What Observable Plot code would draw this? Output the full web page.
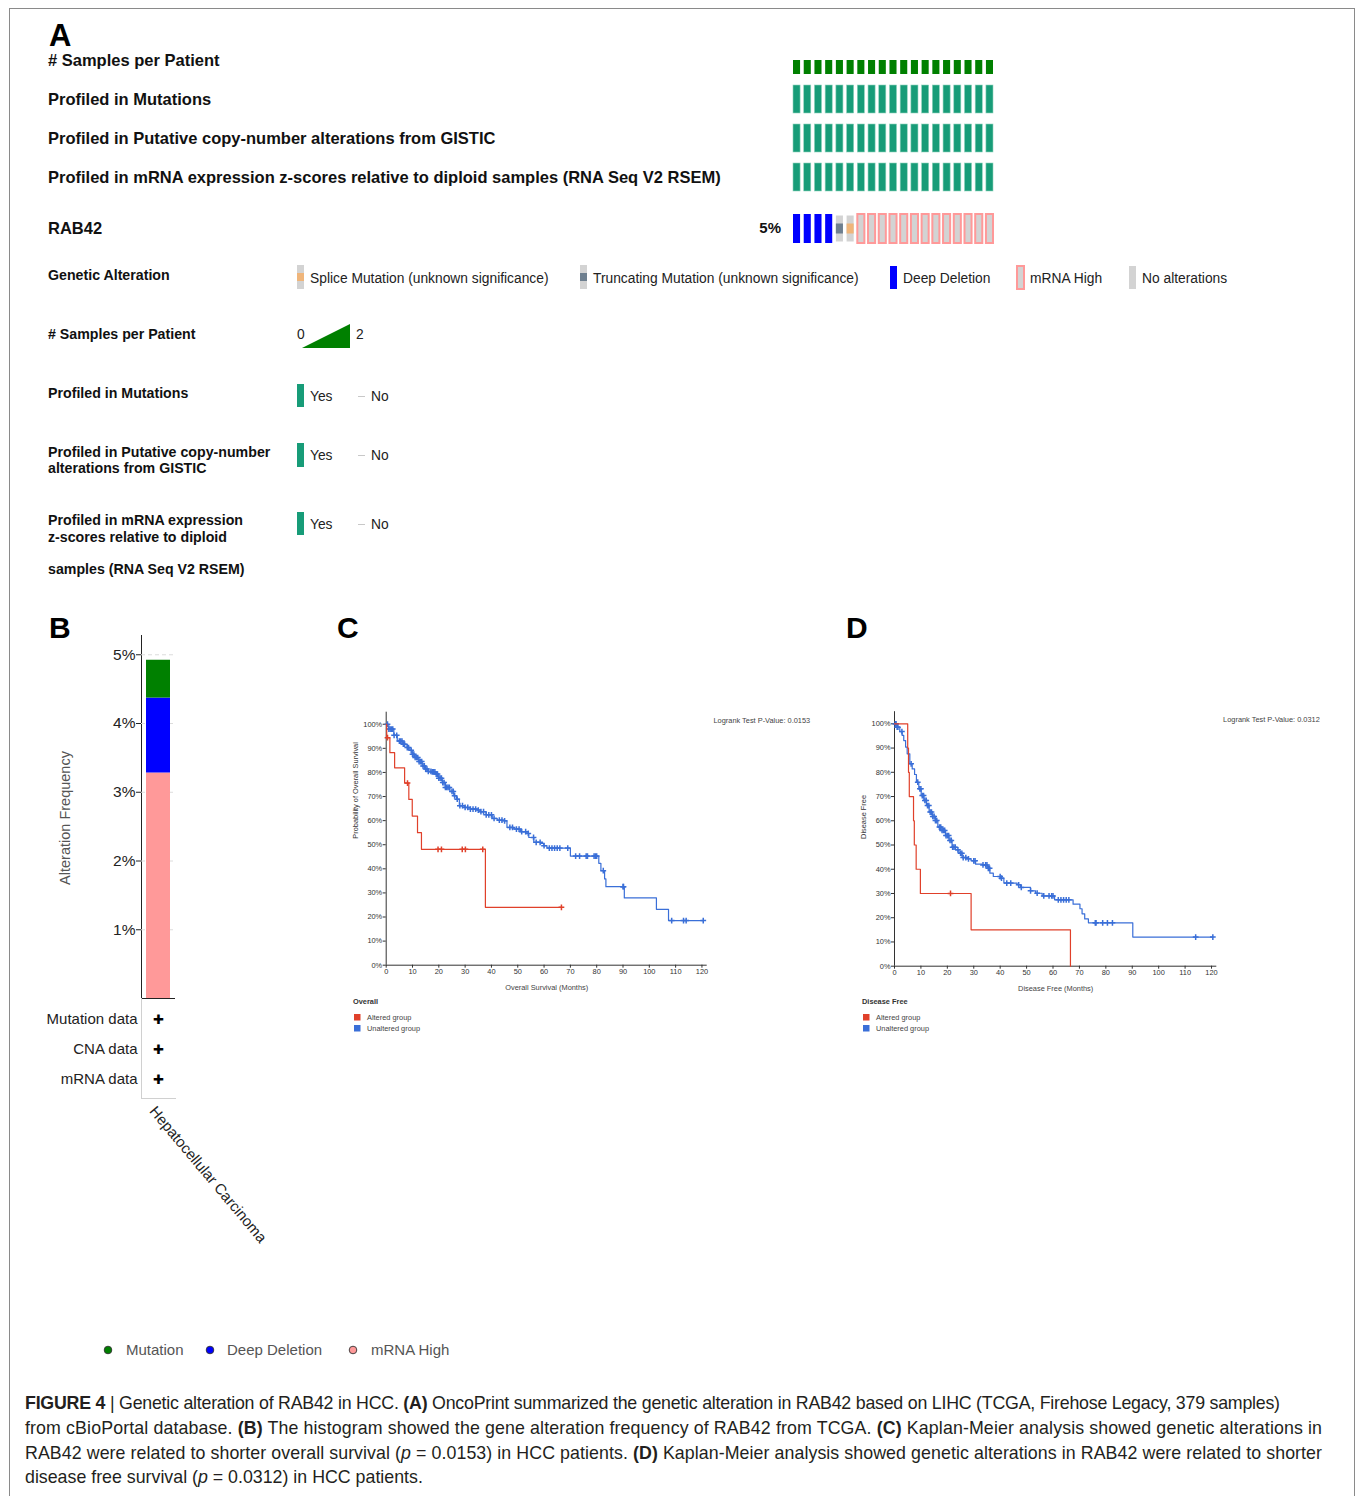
<!DOCTYPE html>
<html>
<head>
<meta charset="utf-8">
<script src="https://cdn.jsdelivr.net/npm/d3@7"></script>
<script src="https://cdn.jsdelivr.net/npm/@observablehq/plot@0.6"></script>
<style>
  body { margin: 0; background: #fff; }
  #fig { position: relative; width: 1357px; height: 1496px; overflow: hidden; background: #fff;
         font-family: 'Liberation Sans', Arial, Helvetica, sans-serif; color: #111; }
  .lab { position: absolute; white-space: nowrap; transform: translateY(-50%); line-height: 1.15; }
</style>
</head>
<body>
<div id="fig"></div>
<script>
// ---------- Panel A: OncoPrint tracks (one entry per altered sample) ----------
const totalSamples = 379;
const rab42Alteration = [
  "Deep Deletion", "Deep Deletion", "Deep Deletion", "Deep Deletion",
  "Truncating Mutation", "Splice Mutation",
  "mRNA High", "mRNA High", "mRNA High", "mRNA High", "mRNA High", "mRNA High", "mRNA High",
  "mRNA High", "mRNA High", "mRNA High", "mRNA High", "mRNA High", "mRNA High"
];
const samplesPerPatient = [1, 1, 1, 1, 1, 1, 1, 1, 1, 1, 1, 1, 1, 1, 1, 1, 1, 1, 1];
const profiledMutations = ["Yes", "Yes", "Yes", "Yes", "Yes", "Yes", "Yes", "Yes", "Yes", "Yes", "Yes", "Yes", "Yes", "Yes", "Yes", "Yes", "Yes", "Yes", "Yes"];
const profiledCNA = ["Yes", "Yes", "Yes", "Yes", "Yes", "Yes", "Yes", "Yes", "Yes", "Yes", "Yes", "Yes", "Yes", "Yes", "Yes", "Yes", "Yes", "Yes", "Yes"];
const profiledMRNA = ["Yes", "Yes", "Yes", "Yes", "Yes", "Yes", "Yes", "Yes", "Yes", "Yes", "Yes", "Yes", "Yes", "Yes", "Yes", "Yes", "Yes", "Yes", "Yes"];

// ---------- Panel B: alteration frequency ----------
const cancerStudies = ["Hepatocellular Carcinoma"];
const freqTypes = ["mRNA High", "Deep Deletion", "Mutation"];
const freqValues = [3.28, 1.09, 0.55];
const profileRows = ["Mutation data", "CNA data", "mRNA data"];
const profileFlags = ["✚", "✚", "✚"];

// ---------- Panel C: overall survival ----------
const osAlteredTime = [0, 0.2, 1.4, 3.2, 7.0, 8.6, 9.9, 11.9, 13.4, 37.7, 66.6];
const osAlteredSurv = [100, 94.4, 88.2, 81.9, 75.6, 68.8, 61.9, 55.0, 48.1, 24.0, 24.0];
const osAlteredCensor = [0.5, 8.1, 19.7, 21.0, 28.9, 30.1, 36.7, 66.6];
const osUnalteredTime = [0, 1, 2.9, 4.2, 6.1, 8, 9, 9.9, 10.8, 12.4, 13.7, 14.9, 15.8, 17.5, 18.7, 20, 21.3, 22.5, 24.2, 25.7, 26.7, 27.8, 29.7, 32, 34.6, 35.8, 38, 40.3, 42.2, 44.7, 45.9, 48.5, 51, 53.5, 54.2, 56.1, 58.6, 59.9, 61.1, 70, 80.8, 81.6, 83, 83.5, 90.5, 102.7, 107.3, 120.6];
const osUnalteredSurv = [100, 98, 95.4, 93, 91.7, 90.3, 89.2, 87.6, 86.2, 84.5, 82.7, 81.4, 80.4, 80.2, 79.3, 77.6, 75.8, 73.8, 72.1, 70.3, 68.9, 66.2, 65.5, 64.8, 64.4, 63.7, 62.4, 60.9, 60.2, 59.9, 57.2, 56.5, 55.4, 54.7, 53, 51, 50.6, 49.6, 48.6, 45.3, 42.3, 39.2, 35.8, 32.6, 27.9, 23.2, 18.5, 18.5];
const osUnalteredCensor = [0.5, 1, 1.5, 2, 2.5, 3, 4, 5, 5.5, 6, 6.5, 7, 8, 8.5, 9.5, 10, 10.5, 11, 11.5, 12, 12.5, 13, 13.5, 14, 14.5, 15, 15.5, 16, 17, 17.5, 18, 18.5, 19, 19.5, 20, 20.5, 21, 21.5, 22, 22.5, 23, 23.5, 24, 25, 25.5, 26, 27, 28, 29, 30, 31, 32, 33, 34, 35, 36, 37, 38, 39, 40, 41, 43, 44, 45, 47, 48, 49.5, 50.5, 51.5, 53, 54, 56, 57, 58.5, 60, 62, 63, 64, 65, 66, 69, 72, 73.5, 76, 76.5, 79, 79.5, 80, 82.5, 90, 90.2, 108.5, 113, 114, 120.5];

// ---------- Panel D: disease free survival ----------
const dfsAlteredTime = [0, 5.0, 5.3, 5.6, 7.2, 7.5, 8.2, 9.8, 29.0, 66.6];
const dfsAlteredSurv = [100, 90, 80, 70, 60, 50, 40, 30, 15, 0];
const dfsAlteredCensor = [21.2];
const dfsUnalteredTime = [0, 1, 2, 2.9, 3.5, 4.2, 4.8, 5.8, 6.7, 7.6, 8.3, 9.2, 10.1, 11.1, 12.1, 13.1, 14.3, 15.5, 16.4, 18, 19.3, 20.6, 21.8, 23.1, 24.4, 25.6, 27.5, 29, 30.7, 33.2, 35.1, 36.1, 37.4, 40.1, 41.4, 46.4, 47.7, 51.5, 53.4, 55.9, 60.6, 67.6, 70.2, 71, 72, 73.4, 90.2, 120.5];
const dfsUnalteredSurv = [100, 98.6, 96.8, 95.2, 93.1, 90.4, 87.6, 83.5, 81.4, 79.1, 75.9, 73.2, 70.4, 68.4, 66.3, 63.6, 61.8, 60.1, 57.4, 56, 53.9, 51.9, 49.1, 48, 46.6, 44.8, 44.3, 43.5, 42.1, 41.8, 40.4, 38.4, 37, 36.3, 34.3, 33.6, 32.5, 31.1, 30.1, 29, 27.4, 25.6, 23.7, 21.6, 19.5, 17.9, 12, 12];
const dfsUnalteredCensor = [0.3, 0.6, 1, 1.3, 2.8, 6.3, 8.8, 9.6, 10, 10.5, 11, 11.5, 12, 12.5, 13, 13.5, 14, 14.5, 15, 15.5, 16, 17, 17.5, 18, 18.5, 19, 19.5, 20, 20.5, 21, 21.5, 22, 22.5, 23, 24, 25, 25.5, 26, 27, 28, 30, 30.5, 33.5, 34.5, 35, 35.5, 36, 40, 40.5, 42.5, 44, 47, 48, 51.5, 54, 56.5, 58.5, 59.5, 60, 62, 63, 64, 65, 66, 76, 76.3, 78.8, 80.6, 82.5, 114, 120.5];

// ---------- styling ----------
const FONT = "'Liberation Sans', Arial, Helvetica, sans-serif";
const TEAL = "#179c78", DARKGREEN = "#008000", BLUE = "#0000ff", PINK = "#ff9999",
      GRAY = "#d3d3d3", SLATE = "#6e7f8f", ORANGE = "#efb57a";
const KM_RED = "#e0402a", KM_BLUE = "#3a6fd8";

const fig = document.getElementById("fig");

function place(node, left, top) {
  node.style.position = "absolute";
  node.style.left = left + "px";
  node.style.top = top + "px";
  fig.appendChild(node);
  return node;
}
function label(html, x, cy, css = {}) {
  const d = document.createElement("div");
  d.className = "lab";
  d.innerHTML = html;
  d.style.left = x + "px";
  d.style.top = cy + "px";
  Object.assign(d.style, css);
  fig.appendChild(d);
  return d;
}
function svgBox(left, top, w, h, inner) {
  const d = document.createElement("div");
  d.style.cssText = `position:absolute;left:${left}px;top:${top}px;width:${w}px;height:${h}px`;
  d.innerHTML = `<svg width="${w}" height="${h}" style="display:block;overflow:visible">${inner}</svg>`;
  fig.appendChild(d);
  return d;
}

// outer frame
const frame = document.createElement("div");
frame.style.cssText = "position:absolute;left:9px;top:8px;width:1344px;height:1600px;border:1px solid #8a8a8a;";
fig.appendChild(frame);

// ---------- Panel A ----------
label("A", 49, 36, {fontSize: "31px", fontWeight: "bold", color: "#000"});
const trackFont = {fontSize: "16.5px", fontWeight: "bold", color: "#111"};
label("# Samples per Patient", 48, 60, trackFont);
label("Profiled in Mutations", 48, 99, trackFont);
label("Profiled in Putative copy-number alterations from GISTIC", 48, 138, trackFont);
label("Profiled in mRNA expression z-scores relative to diploid samples (RNA Seq V2 RSEM)", 48, 177, trackFont);
label("RAB42", 48, 228, trackFont);

const columns = rab42Alteration.map((_, i) => i);
const colScale = {type: "band", domain: columns, paddingInner: 0.34, paddingOuter: 0, round: false, axis: null};
function track(top, height, y, marks) {
  const p = Plot.plot({
    width: 230, height, marginLeft: 13, marginRight: 17, marginTop: 0, marginBottom: 0,
    x: colScale, y: {...y, axis: null}, marks,
    style: {background: "transparent", overflow: "visible"}
  });
  place(p, 780, top);
}
track(46, 28, {domain: [0, 2]}, [
  Plot.barY(samplesPerPatient, {x: (d, i) => i, y: d => d, fill: DARKGREEN})
]);
[[85, profiledMutations], [124, profiledCNA], [163, profiledMRNA]].forEach(([top, arr]) => {
  track(top, 28, {domain: [0, 1]}, [
    Plot.barY(arr, {x: (d, i) => i, y: d => d === "Yes" ? 1 : 0, fill: TEAL, stroke: "#8fd3bd", strokeWidth: 0.6})
  ]);
});
const rab42 = rab42Alteration.map((alt, i) => ({i, alt, gene: "RAB42"}));
const isMut = d => d.alt.endsWith("Mutation");
track(214, 29, {type: "band", domain: ["RAB42"], padding: 0, round: false}, [
  Plot.cell(rab42.filter(d => d.alt === "Deep Deletion"), {x: "i", y: "gene", fill: BLUE}),
  Plot.cell(rab42.filter(isMut), {x: "i", y: "gene", fill: GRAY, insetTop: 1.5, insetBottom: 1.5}),
  Plot.cell(rab42.filter(d => d.alt === "mRNA High"), {x: "i", y: "gene", fill: GRAY, stroke: PINK, strokeWidth: 2}),
  Plot.cell(rab42.filter(d => d.alt === "Truncating Mutation"), {x: "i", y: "gene", fill: SLATE, insetTop: 9.5, insetBottom: 9.5}),
  Plot.cell(rab42.filter(d => d.alt === "Splice Mutation"), {x: "i", y: "gene", fill: ORANGE, insetTop: 9.5, insetBottom: 9.5})
]);
label(Math.round(rab42Alteration.length / totalSamples * 100) + "%", 781, 228,
  {fontSize: "15px", fontWeight: "bold", transform: "translate(-100%,-50%)"});

// legends of panel A
const legHead = {fontSize: "14.2px", fontWeight: "bold", color: "#111"};
const legText = {fontSize: "13.8px", color: "#222"};
label("Genetic Alteration", 48, 275, legHead);
svgBox(297, 265, 8, 24, `<rect width="7" height="24" fill="${GRAY}"/><rect y="8" width="7" height="8" fill="${ORANGE}"/>`);
label("Splice Mutation (unknown significance)", 310, 279, legText);
svgBox(580, 265, 8, 24, `<rect width="7" height="24" fill="${GRAY}"/><rect y="8" width="7" height="8" fill="${SLATE}"/>`);
label("Truncating Mutation (unknown significance)", 593, 279, legText);
svgBox(890, 266, 8, 23, `<rect width="7" height="23" fill="${BLUE}"/>`);
label("Deep Deletion", 903, 279, legText);
svgBox(1017, 266, 9, 23, `<rect x="0" y="0" width="7" height="23" fill="${GRAY}" stroke="${PINK}" stroke-width="2"/>`);
label("mRNA High", 1030, 279, legText);
svgBox(1129, 266, 8, 23, `<rect width="7" height="23" fill="${GRAY}"/>`);
label("No alterations", 1142, 279, legText);

label("# Samples per Patient", 48, 334, legHead);
label("0", 297, 335, legText);
svgBox(302, 324, 50, 25, `<polygon points="0,24 48,24 48,0" fill="${DARKGREEN}"/>`);
label("2", 356, 335, legText);

function yesNo(cy, top, h) {
  svgBox(297, top, 8, h, `<rect width="7" height="${h}" fill="${TEAL}"/>`);
  label("Yes", 310, cy, legText);
  svgBox(358, cy - 1, 8, 2, `<rect width="7" height="1" fill="#c8c8c8"/>`);
  label("No", 371, cy, legText);
}
label("Profiled in Mutations", 48, 393, legHead);
yesNo(397, 384, 23);
label("Profiled in Putative copy-number", 48, 452, legHead);
label("alterations from GISTIC", 48, 468, legHead);
yesNo(456, 443, 24);
label("Profiled in mRNA expression", 48, 520, legHead);
label("z-scores relative to diploid", 48, 537, legHead);
label("samples (RNA Seq V2 RSEM)", 48, 569, legHead);
yesNo(525, 512, 23);

// ---------- Panel B ----------
const letter = {fontSize: "30px", fontWeight: "bold", color: "#000"};
label("B", 49, 628, letter);
label("C", 337, 628, letter);
label("D", 846, 628, letter);

const freqData = freqTypes.map((t, i) => ({study: cancerStudies[0], type: t, freq: freqValues[i]}));
const bPlot = Plot.plot({
  width: 150, height: 370, marginLeft: 101, marginRight: 15, marginTop: 5, marginBottom: 2,
  style: {fontFamily: FONT, fontSize: "15.5px", color: "#222", background: "transparent", overflow: "visible"},
  x: {type: "band", domain: cancerStudies, padding: 0.17, axis: null},
  y: {domain: [0, 5.28], ticks: [1, 2, 3, 4, 5], tickFormat: d => d + "%", tickSize: 5, tickPadding: 1, label: null, line: true},
  color: {domain: ["Mutation", "Deep Deletion", "mRNA High"], range: [DARKGREEN, BLUE, PINK]},
  marks: [
    Plot.gridY([1, 2, 3, 4, 5], {stroke: "#dcdcdc", strokeOpacity: 1, strokeDasharray: "4,3"}),
    Plot.barY(freqData, {x: "study", y: "freq", fill: "type"}),
    Plot.ruleY([0], {stroke: "#222"})
  ]
});
place(bPlot, 40, 630);
label("Alteration Frequency", 65, 818, {fontSize: "14.5px", color: "#555", transform: "translate(-50%,-50%) rotate(-90deg)"});

const tableBox = document.createElement("div");
tableBox.style.cssText = "position:absolute;left:141px;top:998px;width:34px;height:100px;border-left:1px solid #d0d0d0;border-bottom:1px solid #d0d0d0;";
fig.appendChild(tableBox);

const tPlot = Plot.plot({
  width: 150, height: 246, marginLeft: 101, marginRight: 15, marginTop: 6, marginBottom: 150,
  style: {fontFamily: FONT, fontSize: "15px", color: "#222", background: "transparent", overflow: "visible"},
  x: {type: "band", domain: cancerStudies, padding: 0.17},
  y: {type: "band", domain: profileRows, padding: 0},
  marks: [
    Plot.axisY({tickSize: 0, tickPadding: 4, label: null}),
    Plot.axisX({tickSize: 0, tickRotate: 50, tickPadding: 6, dx: -6, dy: 8, label: null}),
    Plot.text(profileRows, {x: () => cancerStudies[0], y: d => d, text: (d, i) => profileFlags[i], fontSize: 13, fill: "#000"})
  ]
});
place(tPlot, 40, 998);

// legend of panel B
const bLeg = {fontSize: "15px", color: "#555"};
[[108, DARKGREEN, "Mutation", 126], [210, BLUE, "Deep Deletion", 227], [353, PINK, "mRNA High", 371]].forEach(([cx, c, t, tx]) => {
  svgBox(cx - 5, 1345, 10, 10, `<circle cx="5" cy="5" r="3.8" fill="${c}" stroke="#333" stroke-width="0.9"/>`);
  label(t, tx, 1350, bLeg);
});

// ---------- Panels C and D: Kaplan-Meier curves ----------
function kmSeries(times, surv) { return times.map((t, i) => ({t, s: surv[i]})); }
function censorPoints(cTimes, times, surv) {
  return cTimes.map(t => ({t, s: surv[Math.max(0, d3.bisectRight(times, t) - 1)]}));
}
function kmPlot(o) {
  return Plot.plot({
    width: 480, height: 300, marginLeft: o.ml, marginRight: o.mr, marginTop: o.mt, marginBottom: o.mb,
    style: {fontFamily: FONT, fontSize: "7.4px", color: "#333", background: "transparent", overflow: "visible"},
    x: {domain: [0, 122], ticks: d3.range(0, 121, 10), tickSize: 3, tickPadding: 1, label: null},
    y: {domain: [0, 105], ticks: d3.range(0, 101, 10), tickFormat: d => d + "%", tickSize: 3, tickPadding: 1, label: null},
    marks: [
      Plot.ruleX([0], {stroke: "#333"}),
      Plot.ruleY([0], {stroke: "#333"}),
      Plot.line(kmSeries(o.uT, o.uS), {x: "t", y: "s", curve: "step-after", stroke: KM_BLUE, strokeWidth: 1.2}),
      Plot.dot(censorPoints(o.uC, o.uT, o.uS), {x: "t", y: "s", symbol: "plus", r: 2, stroke: KM_BLUE, strokeWidth: 1.5}),
      Plot.line(kmSeries(o.aT, o.aS), {x: "t", y: "s", curve: "step-after", stroke: KM_RED, strokeWidth: 1.2}),
      Plot.dot(censorPoints(o.aC, o.aT, o.aS), {x: "t", y: "s", symbol: "plus", r: 2, stroke: KM_RED, strokeWidth: 1.5}),
      Plot.text([o.xLabel], {text: d => d, frameAnchor: "bottom", dy: 24.5, fill: "#444"}),
      Plot.text([o.yLabel], {text: d => d, frameAnchor: "left", rotate: -90, dx: -30.5, fill: "#333"}),
      Plot.text([o.pLabel], {text: d => d, frameAnchor: "top-right", textAnchor: "end", dx: 103, dy: 5.5, fill: "#444"})
    ]
  });
}
place(kmPlot({
  ml: 45.7, mr: 113.3, mt: 11.7, mb: 35.3,
  uT: osUnalteredTime, uS: osUnalteredSurv, uC: osUnalteredCensor,
  aT: osAlteredTime, aS: osAlteredSurv, aC: osAlteredCensor,
  xLabel: "Overall Survival (Months)", yLabel: "Probability of Overall Survival",
  pLabel: "Logrank Test P-Value: 0.0153"
}), 340, 700);
place(kmPlot({
  ml: 44, mr: 113.7, mt: 11.2, mb: 34.3,
  uT: dfsUnalteredTime, uS: dfsUnalteredSurv, uC: dfsUnalteredCensor,
  aT: dfsAlteredTime, aS: dfsAlteredSurv, aC: dfsAlteredCensor,
  xLabel: "Disease Free (Months)", yLabel: "Disease Free",
  pLabel: "Logrank Test P-Value: 0.0312"
}), 850, 700);

function kmLegend(x, title) {
  const f = {fontSize: "7.4px", color: "#444"};
  label(title, x, 1002, {...f, fontWeight: "bold", color: "#333"});
  svgBox(x + 1, 1014, 7, 7, `<rect width="6.5" height="6.5" fill="${KM_RED}"/>`);
  label("Altered group", x + 14, 1017.5, f);
  svgBox(x + 1, 1025, 7, 7, `<rect width="6.5" height="6.5" fill="${KM_BLUE}"/>`);
  label("Unaltered group", x + 14, 1028.5, f);
}
kmLegend(353, "Overall");
kmLegend(862, "Disease Free");

// ---------- caption ----------
svgBox(0, 1380, 1357, 116, `
<g font-family="${FONT}" font-size="17.8px" fill="#231f20">
  <text x="25" y="29" textLength="1255" lengthAdjust="spacing"><tspan font-weight="bold">FIGURE 4</tspan> | Genetic alteration of RAB42 in HCC. <tspan font-weight="bold">(A)</tspan> OncoPrint summarized the genetic alteration in RAB42 based on LIHC (TCGA, Firehose Legacy, 379 samples)</text>
  <text x="25" y="54" textLength="1297" lengthAdjust="spacing">from cBioPortal database. <tspan font-weight="bold">(B)</tspan> The histogram showed the gene alteration frequency of RAB42 from TCGA. <tspan font-weight="bold">(C)</tspan> Kaplan-Meier analysis showed genetic alterations in</text>
  <text x="25" y="78.5" textLength="1297" lengthAdjust="spacing">RAB42 were related to shorter overall survival (<tspan font-style="italic">p</tspan> = 0.0153) in HCC patients. <tspan font-weight="bold">(D)</tspan> Kaplan-Meier analysis showed genetic alterations in RAB42 were related to shorter</text>
  <text x="25" y="103">disease free survival (<tspan font-style="italic">p</tspan> = 0.0312) in HCC patients.</text>
</g>`);
</script>
</body>
</html>
